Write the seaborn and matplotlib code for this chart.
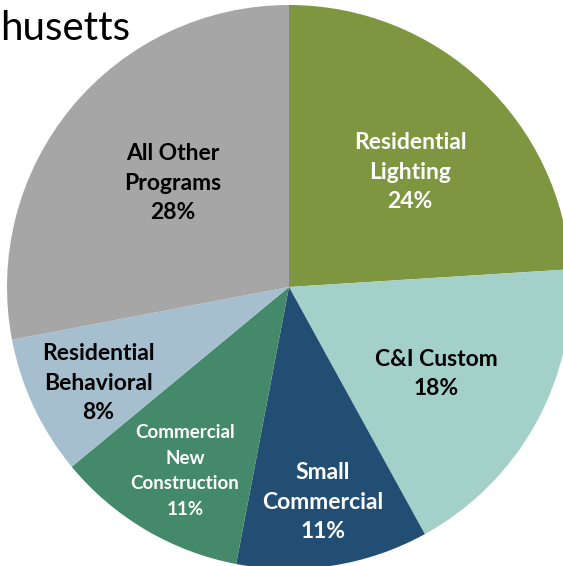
import matplotlib
matplotlib.use("Agg")
import matplotlib.pyplot as plt
import seaborn as sns
import numpy as np

categories = ["Residential\nLighting", "C&I Custom", "Small\nCommercial",
              "Commercial\nNew\nConstruction", "Residential\nBehavioral",
              "All Other\nPrograms"]
values = [24, 18, 11, 11, 8, 28]
colors = ["#7E9640", "#A3D0C8", "#234E74", "#44896A", "#A6BFCF", "#A6A6A6"]
label_colors = ["white", "black", "white", "white", "black", "black"]
title_text = "husetts"

sns.set_theme(style="white")
plt.rcParams['font.family'] = ['Lato', 'DejaVu Sans']

W, H = 563, 566
fig = plt.figure(figsize=(W / 100, H / 100), dpi=100)
ax = fig.add_axes([0, 0, 1, 1])

palette = sns.color_palette(colors)
wedges, _ = ax.pie(values, colors=palette, startangle=90, counterclock=False,
                   wedgeprops=dict(linewidth=0), radius=1.0)

# pixel mapping: center at (289, 287) px from top-left, radius 282 px
R = 282.0
cx, cy = 289.0, 287.0
ax.set_xlim(-cx / R, (W - cx) / R)
ax.set_ylim(-(H - cy) / R, cy / R)
ax.set_aspect('auto')
ax.axis('off')

radii = [0.592, 0.606, 0.772, 0.750, 0.758, 0.552]
dtheta = [-3.3, -1.8, 0.0, 1.1, 1.5, -2.3]
sizes = [16.5, 16.5, 16.5, 13.5, 16.5, 16.5]
spacing = [1.48, 1.48, 1.48, 1.6, 1.48, 1.48]
for w, cat, v, r, dt, s, ls, c in zip(wedges, categories, values, radii, dtheta,
                                      sizes, spacing, label_colors):
    ang = np.deg2rad((w.theta1 + w.theta2) / 2 + dt)
    ax.text(r * np.cos(ang), r * np.sin(ang), f"{cat}\n{v}%",
            ha='center', va='center', fontsize=s, fontweight='bold',
            color=c, linespacing=ls)

fig.text(0.5 / W, 1 - 40 / H, title_text, ha='left', va='baseline',
         fontsize=29, color='black')

fig.savefig("out.png", dpi=100)
